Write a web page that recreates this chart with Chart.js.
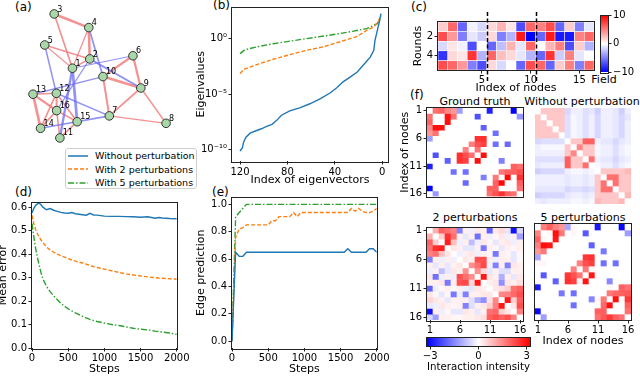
<!DOCTYPE html>
<html>
<head>
<meta charset="utf-8">
<title>network inference figure</title>
<script src="https://cdn.jsdelivr.net/npm/chart.js@4.4.1/dist/chart.umd.min.js"></script>
<style>
  body { margin: 0; width: 640px; height: 376px; position: relative; overflow: hidden; background: #fff;
         font-family: 'DejaVu Sans', sans-serif; color: #000; }
  canvas { position: absolute; }
  .txt { position: absolute; white-space: nowrap; line-height: 1; }
  .panel { font-size: 12px; }
  .ctr { font-size: 11px; transform: translateX(-50%); }
  #legend { position: absolute; left: 65px; top: 148px; width: 132px; height: 41px; box-sizing: border-box;
            border: 1px solid #cfcfcf; border-radius: 3px; background: #fff; padding: 0 0 0 2px; font-size: 9.5px; }
  .legrow { display: flex; align-items: center; height: 13.6px; }
  .legrow svg { margin-right: 7px; }
</style>
</head>
<body>
<div class="txt panel" style="left:15px;top:1px">(a)</div>
<div class="txt panel" style="left:213px;top:-1px">(b)</div>
<div class="txt panel" style="left:411px;top:1px">(c)</div>
<div class="txt panel" style="left:15px;top:186px">(d)</div>
<div class="txt panel" style="left:212px;top:186px">(e)</div>
<div class="txt panel" style="left:410px;top:89px">(f)</div>
<div class="txt ctr" style="left:475px;top:96px">Ground truth</div>
<div class="txt ctr" style="left:582px;top:96px">Without perturbation</div>
<div class="txt ctr" style="left:475px;top:212px">2 perturbations</div>
<div class="txt ctr" style="left:583px;top:212px">5 perturbations</div>
<div class="txt ctr" style="left:604px;top:74px">Field</div>
<div id="legend"></div>
<script>
// ---------------- data ----------------
// (a) node layout of the 16-node network
var nodeX = [71, 89.3, 51.7, 88.3, 41.7, 135, 110, 170, 143.3, 103.3, 57.7, 54, 29.3, 37.3, 76, 54.3];
var nodeY = [67.7, 57.7, 9.3, 24, 42.7, 54.3, 119, 127, 89, 76.7, 142.7, 94.7, 95.7, 132.3, 125.3, 113.3];

// series shared by (b), (d), (e)
var seriesNames = ['Without perturbation', 'With 2 perturbations', 'With 5 perturbations'];
var seriesColors = ['#1f77b4', '#ff7f0e', '#2ca02c'];
var seriesDash = [[], [4, 2], [6, 2, 1.5, 2]];

// (b) eigenvalue spectra
var eigIdxNone = [120, 118, 117, 115, 111.5, 107, 102, 97.5, 93, 89, 85, 78, 69, 61, 52, 44, 38, 33, 27, 21, 16, 10, 7, 6, 4, 2, 1];
var eigNone = [7.9e-11, 1.6e-10, 5e-10, 1.4e-9, 3.2e-9, 5e-9, 7.9e-9, 1.3e-8, 2e-8, 4.5e-8, 1.3e-7, 3.2e-7,
               6.3e-7, 1.4e-6, 4e-6, 1.3e-5, 4e-5, 1.3e-4, 3.5e-4, 1e-3, 4e-3, 2.2e-2, 8.9e-2, 0.71, 5.6, 45, 178];
var eigIdxTwo = [120, 117, 106, 92, 78, 64, 50, 36, 21, 13, 7, 3, 1];
var eigTwo = [7.2e-4, 1.7e-3, 4.6e-3, 1.4e-2, 3.6e-2, 8.9e-2, 0.18, 0.5, 1.6, 5.6, 11, 38, 123];
var eigIdxFive = [120, 116, 106, 92, 64, 36, 13, 4, 1];
var eigFive = [0.045, 0.10, 0.18, 0.35, 1.0, 2.8, 7.9, 22, 100];

// (c) external field applied in each round (5 rounds x 16 nodes)
var fieldRound1 = [2, 6, -6, -0.5, -1.5, 1.5, 3, 1, -7, 6, 5, 7, -6, 2, -5, -1];
var fieldRound2 = [7, 4, -5, -1, -2, 1.5, -5, -3, 9, -10, -6, 9, -9, -9, 5, 6];
var fieldRound3 = [-1.5, 1, -0.5, -7, 0, -6, -2.5, 3, -1, 6, 0, 3, 5, -7, 2, -3];
var fieldRound4 = [-8, 1.5, 1, 8, -3, 6, 2.5, 1.5, -1, -3, -6, 8, -2, 5, -1, 0];
var fieldRound5 = [7, 6, 4, -5, -7, 1.5, -1.5, 0, -6, 7, 6, -6, 2, 5, -5, 6];
var roundSplits = [5.5, 10.5];

// (d) mean error vs steps
var stepsErr = [0, 25, 50, 75, 100, 125, 150, 200, 250, 300, 350, 400, 450, 500, 550, 600, 700, 750, 800, 850, 900,
                1000, 1100, 1200, 1300, 1400, 1500, 1600, 1700, 1750, 1800, 1900, 2000];
var errNone = [0.575, 0.595, 0.607, 0.614, 0.617, 0.61, 0.60, 0.589, 0.594, 0.587, 0.582, 0.578, 0.575, 0.574, 0.577,
               0.572, 0.568, 0.566, 0.574, 0.567, 0.566, 0.562, 0.561, 0.561, 0.560, 0.559, 0.557, 0.559, 0.553, 0.556,
               0.554, 0.552, 0.551];
var errTwo = [0.565, 0.53, 0.505, 0.487, 0.472, 0.46, 0.45, 0.43, 0.418, 0.408, 0.400, 0.393, 0.387, 0.381, 0.375,
              0.370, 0.362, 0.357, 0.352, 0.347, 0.343, 0.336, 0.329, 0.322, 0.316, 0.311, 0.307, 0.303, 0.300, 0.298,
              0.297, 0.295, 0.293];
var errFive = [0.53, 0.475, 0.425, 0.385, 0.352, 0.32, 0.295, 0.263, 0.24, 0.222, 0.206, 0.19, 0.178, 0.167, 0.158,
               0.150, 0.135, 0.128, 0.122, 0.117, 0.113, 0.106, 0.100, 0.096, 0.09, 0.084, 0.08, 0.077, 0.072, 0.07,
               0.068, 0.064, 0.058];

// (e) edge prediction vs steps
var stepsEdgeNone = [0, 50, 100, 150, 200, 1550, 1600, 1650, 1850, 1900, 1950, 2000];
var edgeNone = [0, 0.65, 0.62, 0.62, 0.65, 0.65, 0.675, 0.65, 0.65, 0.675, 0.675, 0.65];
var stepsEdgeTwo = [0, 50, 100, 150, 200, 500, 550, 600, 650, 700, 800, 850, 900, 950, 1600, 1650, 1700, 1750, 1800,
                    1850, 1900, 1950, 2000];
var edgeTwo = [0, 0.76, 0.82, 0.83, 0.85, 0.85, 0.88, 0.88, 0.91, 0.91, 0.91, 0.94, 0.91, 0.94, 0.94, 0.97, 0.95,
               0.97, 0.95, 0.94, 0.94, 0.95, 0.97];
var stepsEdgeFive = [0, 50, 100, 150, 200, 2000];
var edgeFive = [0, 0.91, 0.94, 0.97, 1.0, 1.0];

// (f) interaction matrices
var groundTruth = [
  [0, 1.8, 2.0, 1.5, 1.3, -1.2, 0, 0, 0, 0, -2.8, 0, 0, 0, -3.2, 0],
  [1.8, 0, 0, 3.0, 1.8, 0, 0, 0, -2.2, 0, 0, 0, 0, 0, 0, -1.3],
  [2.0, 0, 0, 3.0, 0, 0, 0, 0, 0, 0, 0, 0, 0, 0, 0, 0],
  [1.5, 3.0, 3.0, 0, 0, 0, 0, 0, 0, -2.0, 0, 0, 0, 0, 0, 0],
  [1.3, 1.8, 0, 0, 0, 0, 0, 0, 0, 0, 0, -1.8, 0, 0, 0, 0],
  [-1.2, 0, 0, 0, 0, 0, 0, 0, 2.6, 2.6, 0, 0, 0, 0, 0, 0],
  [0, 0, 0, 0, 0, 0, 0, 1.6, 2.2, 2.4, 0, -1.8, 0, -1.9, 0, 0],
  [0, 0, 0, 0, 0, 0, 1.6, 0, 1.8, 0, 0, 0, 0, 0, 0, 0],
  [0, -2.2, 0, 0, 0, 2.6, 2.2, 1.8, 0, 3.0, 0, 0, 0, 0, 0, 0],
  [0, 0, 0, -2.0, 0, 2.6, 2.4, 0, 3.0, 0, 0, 0, -1.6, 0, 0, 0],
  [-2.8, 0, 0, 0, 0, 0, 0, 0, 0, 0, 0, 0, 0, 0, 2.0, 1.8],
  [0, 0, 0, 0, -1.8, 0, -1.8, 0, 0, 0, 0, 0, 1.7, 2.0, 2.0, 2.2],
  [0, 0, 0, 0, 0, 0, 0, 0, 0, -1.6, 0, 1.7, 0, 3.1, 0, 2.6],
  [0, 0, 0, 0, 0, 0, -1.9, 0, 0, 0, 0, 2.0, 3.1, 0, 0, 2.0],
  [-3.2, 0, 0, 0, 0, 0, 0, 0, 0, 0, 2.0, 2.0, 0, 0, 0, 1.8],
  [0, -1.3, 0, 0, 0, 0, 0, 0, 0, 0, 1.8, 2.2, 2.6, 2.0, 1.8, 0]
];
var noPerturb = [
  [0, .7, .7, .7, .7, -.5, -.2, -.2, -.4, -.3, -.6, -.2, -.2, -.3, -.6, -.2],
  [.7, 0, .7, .7, .7, -.4, -.1, -.2, -.4, -.2, -.5, -.2, -.2, -.3, -.5, -.3],
  [.7, .7, 0, .7, .7, -.4, -.1, -.2, -.4, -.2, -.5, -.2, -.2, -.3, -.5, -.2],
  [.7, .7, .7, 0, .7, -.4, -.1, -.2, -.4, -.2, -.5, -.2, -.2, -.3, -.5, -.2],
  [.7, .7, .7, .7, 0, -.4, -.1, -.2, -.4, -.2, -.5, -.2, -.2, -.3, -.5, -.2],
  [-.5, -.4, -.4, -.4, -.4, 0, .7, .7, 2.0, 2.0, -.2, -.3, -.3, -.5, -.3, -.2],
  [-.2, -.1, -.1, -.1, -.1, .7, 0, 1.5, .7, .7, -.1, -.2, -.2, -.4, -.2, -.1],
  [-.2, -.2, -.2, -.2, -.2, .7, 1.5, 0, .7, .7, -.1, -.2, -.2, -.4, -.2, -.1],
  [-.4, -.4, -.4, -.4, -.4, 2.0, .7, .7, 0, 1.8, -.2, -.3, -.3, -.5, -.3, -.2],
  [-.3, -.2, -.2, -.2, -.2, 2.0, .7, .7, 1.8, 0, -.1, -.2, -.2, -.4, -.2, -.1],
  [-.6, -.5, -.5, -.5, -.5, -.2, -.1, -.1, -.2, -.1, 0, .7, .7, .7, .7, .9],
  [-.2, -.2, -.2, -.2, -.2, -.3, -.2, -.2, -.3, -.2, .7, 0, 1.8, 1.8, .7, .7],
  [-.2, -.2, -.2, -.2, -.2, -.3, -.2, -.2, -.3, -.2, .7, 1.8, 0, 1.8, .7, .7],
  [-.3, -.3, -.3, -.3, -.3, -.5, -.4, -.4, -.5, -.4, .7, 1.8, 1.8, 0, .7, .7],
  [-.6, -.5, -.5, -.5, -.5, -.3, -.2, -.2, -.3, -.2, .7, .7, .7, .7, 0, .9],
  [-.2, -.3, -.2, -.2, -.2, -.2, -.1, -.1, -.2, -.1, .9, .7, .7, .7, .9, 0]
];
var twoPerturb = [
  [0, 1.0, 2.0, 1.8, 1.6, -1.6, 0.2, -0.2, 0.3, 0.2, -2.0, 0.3, 0.5, -0.3, -3.0, -0.5],
  [1.0, 0, 0.6, 2.6, 1.8, 0.2, -0.3, 0.2, -1.8, 0.2, -0.2, 0.1, 0.3, -0.2, 0.2, -1.2],
  [2.0, 0.6, 0, 2.8, 0.8, -0.2, 0.2, -0.8, -0.2, 0.3, 0.1, -0.3, 0.2, 0.3, -0.2, 0.2],
  [1.8, 2.6, 2.8, 0, 0.3, 0.2, -0.3, -0.3, 0.2, -1.7, 0.2, 0.1, -0.3, 0.2, 0.1, 0.2],
  [1.6, 1.8, 0.8, 0.3, 0, -0.2, 0.2, 0.3, -0.2, 0.2, 0.1, -1.7, 0.2, 0.1, -0.3, 0.1],
  [-1.6, 0.2, -0.2, 0.2, -0.2, 0, 0.3, 0.2, 2.2, 2.2, 0.2, -0.2, 0.2, 0.2, -0.3, 0.1],
  [0.2, -0.3, 0.2, -0.3, 0.2, 0.3, 0, 1.4, 1.8, 2.3, -0.2, -1.6, 0.2, -1.6, 0.3, 0.2],
  [-0.2, 0.2, -0.8, -0.3, 0.3, 0.2, 1.4, 0, 1.4, 0.5, -0.3, 0.2, -0.4, -0.4, 0.2, 0.2],
  [0.3, -1.8, -0.2, 0.2, -0.2, 2.2, 1.8, 1.4, 0, 2.9, 0.3, 0.2, -1.0, 0.2, -0.3, 0.3],
  [0.2, 0.2, 0.3, -1.7, 0.2, 2.2, 2.3, 0.5, 2.9, 0, 0.2, 0.3, -1.4, 0.3, 0.2, 0.4],
  [-2.0, -0.2, 0.1, 0.2, 0.1, 0.2, -0.2, -0.3, 0.3, 0.2, 0, 0.3, 0.4, 0.6, 1.8, 2.0],
  [0.3, 0.1, -0.3, 0.1, -1.7, -0.2, -1.6, 0.2, 0.2, 0.3, 0.3, 0, 1.5, 1.6, 1.9, 2.2],
  [0.5, 0.3, 0.2, -0.3, 0.2, 0.2, 0.2, -0.4, -1.0, -1.4, 0.4, 1.5, 0, 2.9, 0.6, 2.0],
  [-0.3, -0.2, 0.3, 0.2, 0.1, 0.2, -1.6, -0.4, 0.2, 0.3, 0.6, 1.6, 2.9, 0, 0.3, 2.2],
  [-3.0, 0.2, -0.2, 0.1, -0.3, -0.3, 0.3, 0.2, -0.3, 0.2, 1.8, 1.9, 0.6, 0.3, 0, 1.6],
  [-0.5, -1.2, 0.2, 0.2, 0.1, 0.1, 0.2, 0.2, 0.3, 0.4, 2.0, 2.2, 2.0, 2.2, 1.6, 0]
];
var fivePerturb = [
  [0, 1.6, 2.0, 1.6, 1.3, -1.1, 0.1, 0, 0, 0, -2.9, 0, 0, 0, -3.1, 0],
  [1.6, 0, 0.1, 3.0, 1.7, 0, 0.1, 0, -2.1, 0, 0, 0, 0, 0, 0, -1.2],
  [2.0, 0.1, 0, 2.9, 0, 0, 0, 0, 0, 0, 0, 0, 0, 0, 0, 0],
  [1.6, 3.0, 2.9, 0, 0, 0, 0, 0, 0, -2.0, 0, 0, 0, 0, 0, 0],
  [1.3, 1.7, 0, 0, 0, 0, 0, 0, 0, 0, 0, -1.7, 0, 0, 0, 0],
  [-1.1, 0, 0, 0, 0, 0, 0, 0, 2.5, 2.6, 0, 0, 0, 0, 0, 0],
  [0.1, 0.1, 0, 0, 0, 0, 0, 1.6, 2.2, 2.4, 0, -1.8, 0, -1.8, 0, 0],
  [0, 0, 0, 0, 0, 0, 1.6, 0, 1.7, 0.1, 0, 0, 0, 0, 0, 0],
  [0, -2.1, 0, 0, 0, 2.5, 2.2, 1.7, 0, 2.9, 0, 0, 0, 0, 0, 0],
  [0, 0, 0, -2.0, 0, 2.6, 2.4, 0.1, 2.9, 0, 0, 0, -1.5, 0, 0, 0],
  [-2.9, 0, 0, 0, 0, 0, 0, 0, 0, 0, 0, 0, 0.1, 0, 2.0, 1.8],
  [0, 0, 0, 0, -1.7, 0, -1.8, 0, 0, 0, 0, 0, 1.7, 1.9, 2.0, 2.1],
  [0, 0, 0, 0, 0, 0, 0, 0, 0, -1.5, 0.1, 1.7, 0, 3.0, 0, 2.5],
  [0, 0, 0, 0, 0, 0, -1.8, 0, 0, 0, 0, 1.9, 3.0, 0, 0, 2.0],
  [-3.1, 0, 0, 0, 0, 0, 0, 0, 0, 0, 2.0, 2.0, 0, 0, 0, 1.8],
  [0, -1.2, 0, 0, 0, 0, 0, 0, 0, 0, 1.8, 2.1, 2.5, 2.0, 1.8, 0]
];

// ---------------- helpers ----------------
Chart.defaults.font.family = "'DejaVu Sans', sans-serif";
Chart.defaults.font.size = 10;
Chart.defaults.color = '#000';
Chart.defaults.animation = false;
Chart.defaults.responsive = false;
Chart.defaults.devicePixelRatio = 1;
Chart.defaults.plugins.legend.display = false;
Chart.defaults.plugins.tooltip.enabled = false;

function makeCanvas(left, top, w, h) {
  var c = document.createElement('canvas');
  c.width = w; c.height = h;
  c.style.left = left + 'px'; c.style.top = top + 'px';
  document.body.appendChild(c);
  return c;
}

// matplotlib "bwr" colour map
function bwr(v, vmax) {
  var t = Math.max(-1, Math.min(1, v / vmax)), r, g, b;
  if (t < 0) { r = g = Math.round(255 * (1 + t)); b = 255; }
  else { r = 255; g = b = Math.round(255 * (1 - t)); }
  return 'rgb(' + r + ',' + g + ',' + b + ')';
}

function minus(v) { return v < 0 ? '\u2212' + Math.abs(v) : String(v); }
function fixed1(v) { return v.toFixed(1); }
function pow10(v) {
  var sup = {'-': '\u207b', '0': '\u2070', '1': '\u00b9', '2': '\u00b2', '3': '\u00b3', '4': '\u2074',
             '5': '\u2075', '6': '\u2076', '7': '\u2077', '8': '\u2078', '9': '\u2079'};
  var e = String(Math.round(Math.log10(v)));
  return '10' + e.split('').map(function (ch) { return sup[ch]; }).join('');
}

function axisCfg(o) {
  var ticks = o.ticks || [];
  return {
    type: o.type || 'linear',
    position: o.pos,
    display: o.display !== false,
    min: o.min, max: o.max,
    reverse: !!o.reverse,
    offset: false,
    grid: { display: ticks.length > 0, offset: false, drawOnChartArea: false, drawTicks: true,
            tickLength: 3.5, tickWidth: 1, color: '#222', lineWidth: 1 },
    border: { display: false },
    ticks: { display: o.labels !== false, padding: o.pad == null ? 1.5 : o.pad, autoSkip: false,
             maxRotation: 0, minRotation: 0, color: '#000', font: { size: 10 },
             callback: o.fmt || function (v) { return String(v); } },
    title: { display: !!o.title, text: o.title || '', color: '#000', font: { size: 11 }, padding: o.titlePad || 0 },
    afterBuildTicks: function (s) { s.ticks = ticks.map(function (v) { return { value: v }; }); },
    afterFit: function (s) {
      if (o.size != null) { if (s.isHorizontal()) s.height = o.size; else s.width = o.size; }
    }
  };
}

var frame = {
  id: 'frame',
  afterDraw: function (chart) {
    var a = chart.chartArea, ctx = chart.ctx;
    ctx.save();
    ctx.strokeStyle = '#222'; ctx.lineWidth = 1;
    ctx.strokeRect(Math.round(a.left) - 0.5, Math.round(a.top) - 0.5,
                   Math.round(a.right - a.left) + 1, Math.round(a.bottom - a.top) + 1);
    ctx.restore();
  }
};

function lineSet(xs, ys, k) {
  return {
    data: xs.map(function (x, i) { return { x: x, y: ys[i] }; }),
    borderColor: seriesColors[k], borderWidth: 1.4, borderDash: seriesDash[k],
    pointRadius: 0, fill: false, tension: 0
  };
}

// ---------------- (a) network ----------------
var nodeLabels = {
  id: 'nodeLabels',
  afterDatasetsDraw: function (chart) {
    var ctx = chart.ctx;
    ctx.save();
    ctx.font = "8px 'DejaVu Sans'"; ctx.fillStyle = '#000';
    ctx.textAlign = 'left'; ctx.textBaseline = 'bottom';
    chart.getDatasetMeta(0).data.forEach(function (pt, i) { ctx.fillText(String(i + 1), pt.x + 3, pt.y - 0.5); });
    ctx.restore();
  }
};
var netSets = [{
  type: 'scatter',
  data: nodeX.map(function (x, i) { return { x: x, y: nodeY[i] }; }),
  pointRadius: 4.3, pointBackgroundColor: '#a8d8a8', pointBorderColor: '#333', pointBorderWidth: 1, order: 0
}];
for (var i = 0; i < 16; i++) {
  for (var j = i + 1; j < 16; j++) {
    var w = groundTruth[i][j];
    if (w === 0) continue;
    netSets.push({
      type: 'line',
      data: [{ x: nodeX[i], y: nodeY[i] }, { x: nodeX[j], y: nodeY[j] }],
      borderColor: w > 0 ? 'rgba(240,110,110,0.75)' : 'rgba(110,110,240,0.75)',
      borderWidth: 0.85 * Math.abs(w), pointRadius: 0, order: 1
    });
  }
}
new Chart(makeCanvas(0, 0, 195, 150), {
  type: 'scatter',
  data: { datasets: netSets },
  options: {
    layout: { padding: 0 },
    scales: {
      x: { type: 'linear', display: false, min: 0, max: 195 },
      y: { type: 'linear', display: false, min: 0, max: 150, reverse: true }
    }
  },
  plugins: [nodeLabels]
});

// legend (shared by d/e/b)
var leg = document.getElementById('legend');
seriesNames.forEach(function (name, k) {
  var row = document.createElement('div');
  row.className = 'legrow';
  row.innerHTML = '<svg width="20" height="8"><line x1="0" y1="4" x2="20" y2="4" stroke="' + seriesColors[k] +
    '" stroke-width="1.5" stroke-dasharray="' + (seriesDash[k].length ? seriesDash[k].join(',') : 'none') +
    '"/></svg><span>' + name + '</span>';
  leg.appendChild(row);
});

// ---------------- (b) eigenvalues ----------------
new Chart(makeCanvas(195, 0, 195, 187), {
  type: 'line',
  data: { datasets: [lineSet(eigIdxNone, eigNone, 0), lineSet(eigIdxTwo, eigTwo, 1), lineSet(eigIdxFive, eigFive, 2)] },
  options: {
    layout: { padding: { left: 0, top: 7, right: 2, bottom: 0 } },
    scales: {
      x: axisCfg({ pos: 'bottom', min: -5, max: 126.8, reverse: true, ticks: [120, 80, 40, 0], size: 26,
                   title: 'Index of eigenvectors' }),
      y: axisCfg({ pos: 'left', type: 'logarithmic', min: 1e-11, max: 631, ticks: [1e-10, 1e-5, 1], fmt: pow10,
                   size: 37, title: 'Eigenvalues' })
    }
  },
  plugins: [frame]
});

// ---------------- (c) field heat map ----------------
function heatSets(rows, vmax, gap) {
  return rows.map(function (row, i) {
    return {
      data: row.map(function (v, j) { return { x: j + 1, y: [i + 0.5, i + 1.5] }; }),
      backgroundColor: row.map(function (v) { return bwr(v, vmax); }),
      borderColor: '#fff', borderWidth: gap, borderSkipped: false,
      grouped: false, barPercentage: 1, categoryPercentage: 1
    };
  });
}
var dividers = {
  id: 'dividers',
  afterDraw: function (chart) {
    var xs = chart.scales.x, a = chart.chartArea, ctx = chart.ctx;
    ctx.save();
    ctx.strokeStyle = '#000'; ctx.lineWidth = 1.5; ctx.setLineDash([4, 2.5]);
    roundSplits.forEach(function (v) {
      var px = Math.round(xs.getPixelForValue(v)) + 0.5;
      ctx.beginPath(); ctx.moveTo(px, a.top - 10); ctx.lineTo(px, a.bottom + 12); ctx.stroke();
    });
    ctx.restore();
  }
};
var fieldRows = [fieldRound1, fieldRound2, fieldRound3, fieldRound4, fieldRound5];
new Chart(makeCanvas(412, 10, 185, 85), {
  type: 'bar',
  data: { datasets: heatSets(fieldRows, 10, 0.6) },
  options: {
    layout: { padding: { left: 0, top: 12, right: 3, bottom: 0 } },
    scales: {
      x: axisCfg({ pos: 'bottom', min: 0.5, max: 16.5, ticks: [5, 10, 15], size: 25, title: 'Index of nodes', pad: 0.5 }),
      y: axisCfg({ pos: 'left', min: 0.5, max: 5.5, reverse: true, ticks: [2, 4], size: 26, title: 'Rounds' })
    }
  },
  plugins: [frame, dividers]
});

// colour bars
function gradientFill(axis, lo, hi) {
  return function (ctx) {
    var c = ctx.chart;
    if (!c.chartArea) return '#fff';
    var s = c.scales[axis], p0 = s.getPixelForValue(lo), p1 = s.getPixelForValue(hi);
    var g = axis === 'y' ? c.ctx.createLinearGradient(0, p0, 0, p1) : c.ctx.createLinearGradient(p0, 0, p1, 0);
    g.addColorStop(0, 'rgb(0,0,255)'); g.addColorStop(0.5, 'rgb(255,255,255)'); g.addColorStop(1, 'rgb(255,0,0)');
    return g;
  };
}
var fieldRange = [-10, 10];
new Chart(makeCanvas(595, 8, 45, 74), {
  type: 'bar',
  data: { labels: [''], datasets: [{ data: [fieldRange], backgroundColor: gradientFill('y', -10, 10),
                                     barPercentage: 1, categoryPercentage: 1, borderWidth: 0 }] },
  options: {
    layout: { padding: { left: 6, top: 6, right: 0, bottom: 10 } },
    scales: {
      x: { type: 'category', display: false },
      y: axisCfg({ pos: 'right', min: -10, max: 10, ticks: [-10, 0, 10], fmt: minus, size: 32 })
    }
  },
  plugins: [frame]
});

// ---------------- (d) mean error ----------------
new Chart(makeCanvas(-3, 195, 193, 181), {
  type: 'line',
  data: { datasets: [lineSet(stepsErr, errNone, 0), lineSet(stepsErr, errTwo, 1), lineSet(stepsErr, errFive, 2)] },
  options: {
    layout: { padding: { left: 0, top: 7, right: 2, bottom: 0 } },
    scales: {
      x: axisCfg({ pos: 'bottom', min: 0, max: 2000, ticks: [0, 500, 1000, 1500, 2000], size: 28, title: 'Steps', pad: 0.5 }),
      y: axisCfg({ pos: 'left', min: 0, max: 0.62, ticks: [0, 0.1, 0.2, 0.3, 0.4, 0.5, 0.6], fmt: fixed1,
                   size: 35, title: 'Mean error' })
    }
  },
  plugins: [frame]
});

// ---------------- (e) edge prediction ----------------
new Chart(makeCanvas(195, 190, 195, 186), {
  type: 'line',
  data: { datasets: [lineSet(stepsEdgeNone, edgeNone, 0), lineSet(stepsEdgeTwo, edgeTwo, 1),
                     lineSet(stepsEdgeFive, edgeFive, 2)] },
  options: {
    layout: { padding: { left: 0, top: 7, right: 2, bottom: 0 } },
    scales: {
      x: axisCfg({ pos: 'bottom', min: 0, max: 2000, ticks: [0, 500, 1000, 1500, 2000], size: 28, title: 'Steps', pad: 0.5 }),
      y: axisCfg({ pos: 'left', min: -0.05, max: 1.05, ticks: [0, 0.2, 0.4, 0.6, 0.8, 1.0], fmt: fixed1,
                   size: 37, title: 'Edge prediction' })
    }
  },
  plugins: [frame]
});

// ---------------- (f) interaction matrices ----------------
function matrixChart(left, top, w, h, pad, rows, xo, yo) {
  return new Chart(makeCanvas(left, top, w, h), {
    type: 'bar',
    data: { datasets: heatSets(rows, 3.2, 0) },
    options: {
      layout: { padding: pad },
      scales: {
        x: axisCfg(Object.assign({ pos: 'bottom', min: 0.5, max: 16.5 }, xo)),
        y: axisCfg(Object.assign({ pos: 'left', min: 0.5, max: 16.5, reverse: true }, yo))
      }
    },
    plugins: [frame]
  });
}
var nodeTicks = [1, 6, 11, 16];
matrixChart(399, 100, 125, 104, { left: 0, top: 8, right: 1, bottom: 0 }, groundTruth,
            { display: false }, { ticks: nodeTicks, size: 28, title: 'Index of nodes' });
matrixChart(535, 108, 96, 96, 0, noPerturb, { display: false }, { display: false });
matrixChart(399, 220, 130, 128, { left: 0, top: 4, right: 6, bottom: 0 }, twoPerturb,
            { ticks: nodeTicks, size: 28, pad: 0.5 }, { ticks: nodeTicks, size: 28 });
matrixChart(528, 220, 112, 128, { left: 7, top: 4, right: 9, bottom: 0 }, fivePerturb,
            { ticks: nodeTicks, size: 28, pad: 0.5, title: 'Index of nodes' }, { display: false });

var intensityRange = [-3.2, 3.2];
new Chart(makeCanvas(420, 334, 120, 42), {
  type: 'bar',
  data: { labels: [''], datasets: [{ data: [intensityRange], backgroundColor: gradientFill('x', -3.2, 3.2),
                                     barPercentage: 1, categoryPercentage: 1, borderWidth: 0 }] },
  options: {
    indexAxis: 'y',
    layout: { padding: { left: 7, top: 4, right: 10, bottom: 0 } },
    scales: {
      y: { type: 'category', display: false },
      x: axisCfg({ pos: 'bottom', min: -3.2, max: 3.2, ticks: [-3, 0, 3], fmt: minus, size: 30, pad: 0.5,
                   title: 'Interaction intensity', titlePad: { top: 0, bottom: 2 } })
    }
  },
  plugins: [frame]
});
</script>
</body>
</html>
